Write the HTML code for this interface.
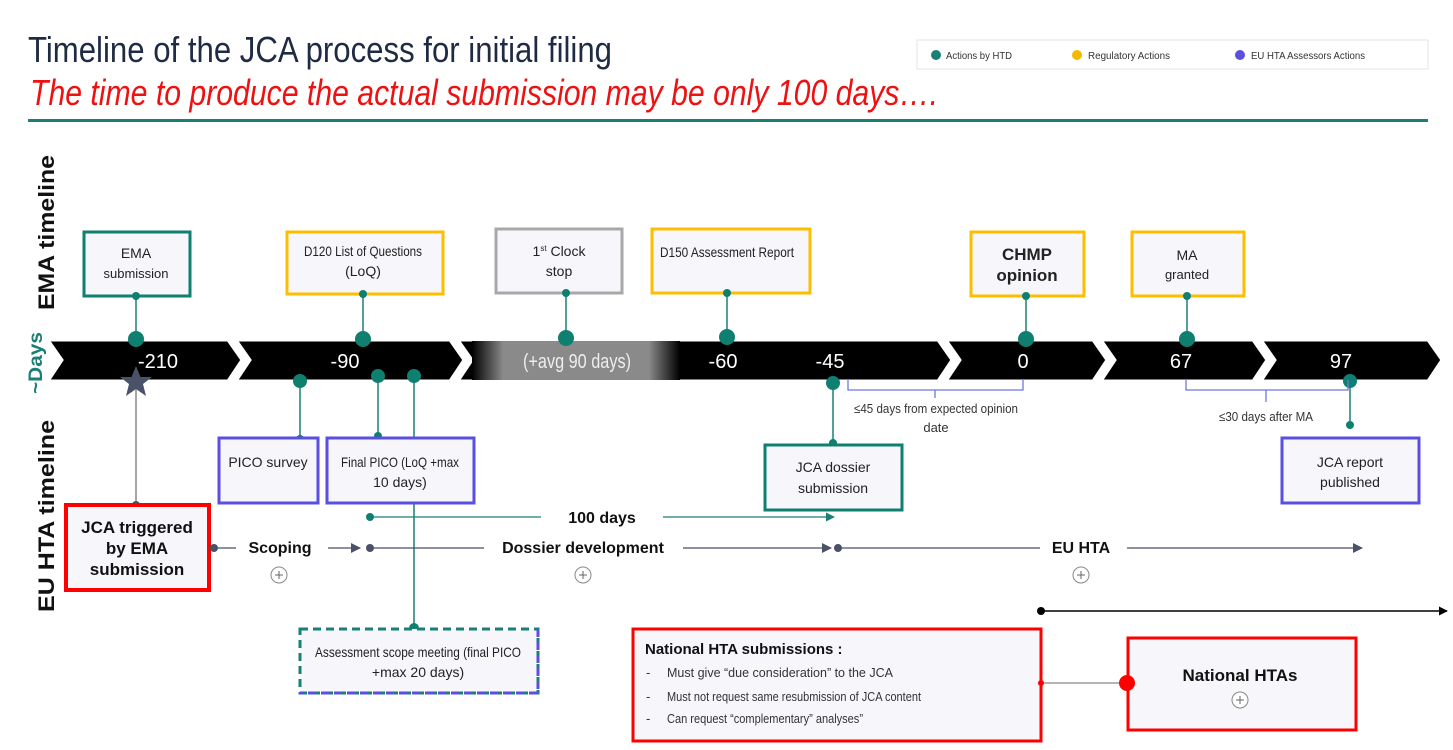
<!DOCTYPE html>
<html><head><meta charset="utf-8"><style>
html,body{margin:0;padding:0;background:#fff;}
svg{display:block;font-family:"Liberation Sans",sans-serif;}
</style></head><body>
<svg width="1453" height="750" viewBox="0 0 1453 750" xmlns="http://www.w3.org/2000/svg">
<defs>
<linearGradient id="g" x1="0" x2="1" y1="0" y2="0">
<stop offset="0" stop-color="#000"/><stop offset="0.15" stop-color="#8a8a8a"/><stop offset="0.85" stop-color="#8a8a8a"/><stop offset="1" stop-color="#000"/>
</linearGradient>
<marker id="ah" viewBox="0 0 10 10" refX="9" refY="5" markerWidth="10" markerHeight="10" markerUnits="userSpaceOnUse" orient="auto"><path d="M0,0L10,5L0,10z" fill="#4a5268"/></marker>
<marker id="at" viewBox="0 0 10 10" refX="9" refY="5" markerWidth="9" markerHeight="9" markerUnits="userSpaceOnUse" orient="auto"><path d="M0,0L10,5L0,10z" fill="#1a7f75"/></marker>
<marker id="ab" viewBox="0 0 10 10" refX="9" refY="5" markerWidth="9" markerHeight="9" markerUnits="userSpaceOnUse" orient="auto"><path d="M0,0L10,5L0,10z" fill="#000"/></marker>
</defs>

<text x="28" y="62" font-size="36" fill="#1f2a44" textLength="584" lengthAdjust="spacingAndGlyphs">Timeline of the JCA process for initial filing</text>
<text x="30" y="105" font-size="36" fill="#ee1111" font-style="italic" textLength="908" lengthAdjust="spacingAndGlyphs">The time to produce the actual submission may be only 100 days….</text>
<rect x="28" y="119" width="1400" height="3" fill="#1a7f75"/>

<rect x="917" y="40" width="511" height="29" fill="#fff" stroke="#e4e4e4"/>
<circle cx="936" cy="55" r="5" fill="#1a7f75"/>
<text x="946" y="59" font-size="10" fill="#333" textLength="66" lengthAdjust="spacingAndGlyphs">Actions by HTD</text>
<circle cx="1077" cy="55" r="5" fill="#f5b800"/>
<text x="1088" y="59" font-size="10" fill="#333" textLength="82" lengthAdjust="spacingAndGlyphs">Regulatory Actions</text>
<circle cx="1240" cy="55" r="5" fill="#5a4fe0"/>
<text x="1251" y="59" font-size="10" fill="#333" textLength="114" lengthAdjust="spacingAndGlyphs">EU HTA Assessors Actions</text>

<text transform="translate(54,310) rotate(-90)" font-size="22" font-weight="bold" fill="#111" textLength="155" lengthAdjust="spacingAndGlyphs">EMA timeline</text>
<text transform="translate(54,612) rotate(-90)" font-size="22" font-weight="bold" fill="#111" textLength="192" lengthAdjust="spacingAndGlyphs">EU HTA timeline</text>

<g stroke="#fff" stroke-width="3">
<polygon points="48,340 228,340 242,360 228,381 48,381 62,360" fill="#000"/>
<polygon points="236,340 450,340 464,360 450,381 236,381 250,360" fill="#000"/>
<polygon points="458,340 938,340 952,360 938,381 458,381 472,360" fill="#000"/>
<polygon points="946,340 1093,340 1107,360 1093,381 946,381 960,360" fill="#000"/>
<polygon points="1101,340 1253,340 1267,360 1253,381 1101,381 1115,360" fill="#000"/>
<polygon points="1261,340 1428,340 1442,360 1428,381 1261,381 1275,360" fill="#000"/>
</g>
<rect x="472" y="341" width="208" height="39" fill="url(#g)"/>
<text transform="translate(42,394) rotate(-90)" font-size="19" font-weight="bold" fill="#1a7f75" textLength="62" lengthAdjust="spacingAndGlyphs">~Days</text>
<g font-size="20" fill="#fff" text-anchor="middle">
<text x="158" y="368">-210</text><text x="345" y="368">-90</text>
<text x="577" y="368" fill="#eee" textLength="108" lengthAdjust="spacingAndGlyphs">(+avg 90 days)</text>
<text x="723" y="368">-60</text><text x="830" y="368">-45</text><text x="1023" y="368">0</text>
<text x="1181" y="368">67</text><text x="1341" y="368">97</text>
</g>

<g fill="#f7f6fb" stroke-width="3">
<rect x="84" y="232" width="106" height="64" stroke="#0f7f70"/>
<rect x="287" y="232" width="156" height="62" stroke="#fbbf00"/>
<rect x="496" y="229" width="126" height="64" stroke="#a8a8a8"/>
<rect x="652" y="229" width="158" height="64" stroke="#fbbf00"/>
<rect x="971" y="232" width="113" height="64" stroke="#fbbf00"/>
<rect x="1132" y="232" width="112" height="64" stroke="#fbbf00"/>
</g>
<g font-size="14" fill="#222" text-anchor="middle">
<text x="136" y="258">EMA</text><text x="136" y="278" font-size="13">submission</text>
<text x="363" y="256" textLength="118" lengthAdjust="spacingAndGlyphs">D120 List of Questions</text><text x="363" y="276">(LoQ)</text>
<text x="559" y="256">1<tspan font-size="8" dy="-5">st</tspan><tspan dy="5"> Clock</tspan></text><text x="559" y="276">stop</text>
<text x="727" y="257" textLength="134" lengthAdjust="spacingAndGlyphs">D150 Assessment Report</text>
<text x="1027" y="260" font-size="17" font-weight="bold">CHMP</text><text x="1027" y="281" font-size="17" font-weight="bold">opinion</text>
<text x="1187" y="260">MA</text><text x="1187" y="279" font-size="13">granted</text>
</g>
<g stroke="#1a7f75" stroke-width="1.5">
<line x1="136" y1="296" x2="136" y2="339"/><line x1="363" y1="294" x2="363" y2="339"/>
<line x1="566" y1="293" x2="566" y2="338"/><line x1="727" y1="293" x2="727" y2="337"/>
<line x1="1026" y1="296" x2="1026" y2="339"/><line x1="1187" y1="296" x2="1187" y2="339"/>
</g>
<g fill="#0f7f70">
<circle cx="136" cy="296" r="4"/><circle cx="136" cy="339" r="8"/>
<circle cx="363" cy="294" r="4"/><circle cx="363" cy="339" r="8"/>
<circle cx="566" cy="293" r="4"/><circle cx="566" cy="338" r="8"/>
<circle cx="727" cy="293" r="4"/><circle cx="727" cy="337" r="8"/>
<circle cx="1026" cy="296" r="4"/><circle cx="1026" cy="339" r="8"/>
<circle cx="1187" cy="296" r="4"/><circle cx="1187" cy="339" r="8"/>
</g>

<line x1="136" y1="382" x2="136" y2="505" stroke="#888" stroke-width="1.5"/>
<polygon points="136,366 140.5,377 152,377 143,384 146,396 136,389 126,396 129,384 120,377 131.5,377" fill="#4a5268"/>
<g stroke="#1a7f75" stroke-width="1.5">
<line x1="300" y1="381" x2="300" y2="440"/>
<line x1="378" y1="376" x2="378" y2="437"/>
<line x1="414" y1="376" x2="414" y2="628"/>
<line x1="833" y1="383" x2="833" y2="444"/>
<line x1="1350" y1="381" x2="1350" y2="425"/>
</g>
<g fill="#0f7f70">
<circle cx="300" cy="381" r="7"/><circle cx="300" cy="439" r="4"/>
<circle cx="378" cy="376" r="7"/><circle cx="378" cy="436" r="4"/>
<circle cx="414" cy="376" r="7"/><circle cx="414" cy="628" r="5"/>
<circle cx="833" cy="383" r="7"/><circle cx="833" cy="443" r="4"/>
<circle cx="1350" cy="381" r="7"/><circle cx="1350" cy="425" r="4"/>
</g>
<circle cx="136" cy="505" r="4" fill="#4a5268"/>

<g stroke="#6a78e0" stroke-width="1.3" fill="none">
<path d="M848,380 V390 H1023 V380 M935,390 V398"/>
<path d="M1186,380 V390 H1348 V380 M1266,390 V402"/>
</g>
<g font-size="13" fill="#333" text-anchor="middle">
<text x="936" y="413" textLength="164" lengthAdjust="spacingAndGlyphs">≤45 days from expected opinion</text>
<text x="936" y="432">date</text>
<text x="1266" y="421" textLength="94" lengthAdjust="spacingAndGlyphs">≤30 days after MA</text>
</g>

<g fill="#f7f6fb" stroke-width="3">
<rect x="219" y="438" width="99" height="65" stroke="#5a4fe0"/>
<rect x="327" y="438" width="147" height="65" stroke="#5a4fe0"/>
<rect x="765" y="445" width="137" height="65" stroke="#0f7f70"/>
<rect x="1282" y="438" width="137" height="65" stroke="#5a4fe0"/>
<rect x="66" y="505" width="143" height="85" stroke="#ff0000" stroke-width="4"/>
<rect x="300" y="629" width="238" height="64" stroke="#1a7f75" stroke-dasharray="8,5"/>
<path d="M538,629 V693 H300" fill="none" stroke="#5a4fe0" stroke-dasharray="8,5"/>
<rect x="633" y="629" width="408" height="112" stroke="#ff0000"/>
<rect x="1128" y="638" width="228" height="92" stroke="#ff0000"/>
</g>
<g font-size="14" fill="#222" text-anchor="middle">
<text x="268" y="467">PICO survey</text>
<text x="400" y="467" textLength="118" lengthAdjust="spacingAndGlyphs">Final PICO (LoQ +max</text><text x="400" y="487">10 days)</text>
<text x="833" y="472">JCA dossier</text><text x="833" y="493">submission</text>
<text x="1350" y="467">JCA report</text><text x="1350" y="487">published</text>
<text x="418" y="657" textLength="206" lengthAdjust="spacingAndGlyphs">Assessment scope meeting (final PICO</text>
<text x="418" y="677">+max 20 days)</text>
<g font-size="17" font-weight="bold" fill="#111">
<text x="137" y="533">JCA triggered</text><text x="137" y="554">by EMA</text><text x="137" y="575">submission</text>
<text x="1240" y="681">National HTAs</text>
</g>
</g>
<g font-size="15" font-weight="bold" fill="#111">
<text x="645" y="654">National HTA submissions :</text>
</g>
<g font-size="13" fill="#333">
<text x="646" y="677">-</text><text x="667" y="677" textLength="226" lengthAdjust="spacingAndGlyphs">Must give “due consideration” to the JCA</text>
<text x="646" y="701">-</text><text x="667" y="701" textLength="254" lengthAdjust="spacingAndGlyphs">Must not request same resubmission of JCA content</text>
<text x="646" y="723">-</text><text x="667" y="723" textLength="196" lengthAdjust="spacingAndGlyphs">Can request “complementary” analyses”</text>
</g>

<g stroke="#4a5268" stroke-width="1.3">
<line x1="214" y1="548" x2="236" y2="548"/>
<line x1="328" y1="548" x2="360" y2="548" marker-end="url(#ah)"/>
<line x1="370" y1="548" x2="484" y2="548"/>
<line x1="683" y1="548" x2="831" y2="548" marker-end="url(#ah)"/>
<line x1="838" y1="548" x2="1040" y2="548"/>
<line x1="1127" y1="548" x2="1362" y2="548" marker-end="url(#ah)"/>
</g>
<g fill="#4a5268"><circle cx="214" cy="548" r="4"/><circle cx="370" cy="548" r="4"/><circle cx="838" cy="548" r="4"/></g>
<g font-size="16" font-weight="bold" fill="#111" text-anchor="middle">
<text x="280" y="553">Scoping</text><text x="583" y="553">Dossier development</text><text x="1081" y="553">EU HTA</text>
<text x="602" y="523">100 days</text>
</g>
<g fill="#fff" stroke="#888" stroke-width="1">
<circle cx="279" cy="575" r="8"/><circle cx="583" cy="575" r="8"/><circle cx="1081" cy="575" r="8"/><circle cx="1240" cy="700" r="8"/>
</g>
<g stroke="#666" stroke-width="1"><path d="M275,575h8M279,571v8M579,575h8M583,571v8M1077,575h8M1081,571v8M1236,700h8M1240,696v8"/></g>

<g stroke="#1a7f75" stroke-width="1.3">
<line x1="370" y1="517" x2="541" y2="517"/>
<line x1="663" y1="517" x2="834" y2="517" marker-end="url(#at)"/>
</g>
<circle cx="370" cy="517" r="4" fill="#0f7f70"/>

<line x1="1041" y1="611" x2="1447" y2="611" stroke="#000" stroke-width="1.5" marker-end="url(#ab)"/>
<circle cx="1041" cy="611" r="4" fill="#000"/>

<line x1="1041" y1="683" x2="1127" y2="683" stroke="#888" stroke-width="1.2"/>
<circle cx="1041" cy="683" r="3" fill="#f00"/>
<circle cx="1127" cy="683" r="8" fill="#f00"/>
</svg>
</body></html>
